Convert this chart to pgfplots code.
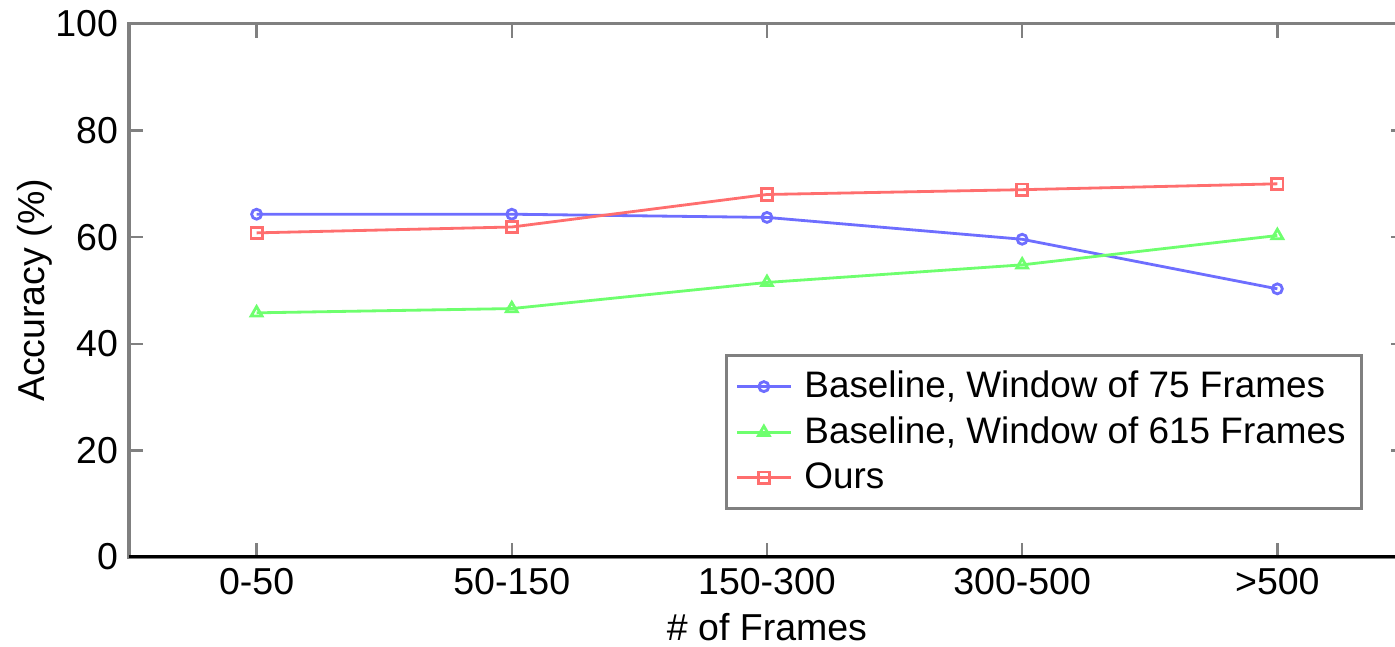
\documentclass[border=0pt]{standalone}
\usepackage{pgfplots}
\pgfplotsset{compat=1.18}
\usepackage{fontspec}
\setmainfont{Liberation Sans}
\definecolor{mblue}{RGB}{110,110,255}
\definecolor{mgreen}{RGB}{110,255,110}
\definecolor{mred}{RGB}{255,110,110}
\begin{document}
\begin{tikzpicture}
\begin{axis}[
    scale only axis,
    width=408.3pt, height=170.6pt,
    xmin=-0.5, xmax=4.5,
    ymin=0, ymax=100,
    xtick={0,1,2,3,4},
    xticklabels={0-50, 50-150, 150-300, 300-500, >500},
    ytick={0,20,40,60,80,100},
    tick align=inside,
    major tick length=4.5pt,
    tick style={gray, line width=0.8pt},
    axis line style={gray, line width=1pt},
    tick label style={font=\fontsize{12}{14}\selectfont},
    /pgf/number format/assume math mode=true,
    label style={font=\fontsize{12}{14}\selectfont},
    xlabel={\# of Frames},
    ylabel={Accuracy (\%)},
    xlabel style={yshift=1pt},
    ylabel style={yshift=-6pt},
    legend cell align=left,
    legend style={
        at={(0.467,0.088)}, anchor=south west,
        draw=gray, line width=1pt,
        font=\fontsize{11.8}{13}\selectfont,
        row sep=0.6pt, inner sep=3pt,
        /tikz/every odd column/.append style={column sep=2pt}
    },
]
\coordinate (o) at (rel axis cs:0,0);
\addplot[mblue, line width=0.9pt, mark=o, mark size=1.6pt] coordinates {
    (0,64.3) (1,64.3) (2,63.7) (3,59.6) (4,50.3)};
\addplot[mgreen, line width=0.9pt, mark=triangle, mark size=2pt] coordinates {
    (0,45.8) (1,46.6) (2,51.5) (3,54.8) (4,60.3)};
\addplot[mred, line width=0.9pt, mark=square, mark size=1.8pt] coordinates {
    (0,60.8) (1,61.9) (2,68.0) (3,68.9) (4,70.0)};
\legend{Baseline{,} Window of 75 Frames, Baseline{,} Window of 615 Frames, Ours}
\draw[black, line width=1pt] (rel axis cs:0,0) -- (rel axis cs:1,0);
\end{axis}
\pgfresetboundingbox
\path[use as bounding box] (o) ++(-41.28pt,-28.48pt) rectangle ++(446.4pt,206.72pt);
\end{tikzpicture}
\end{document}
